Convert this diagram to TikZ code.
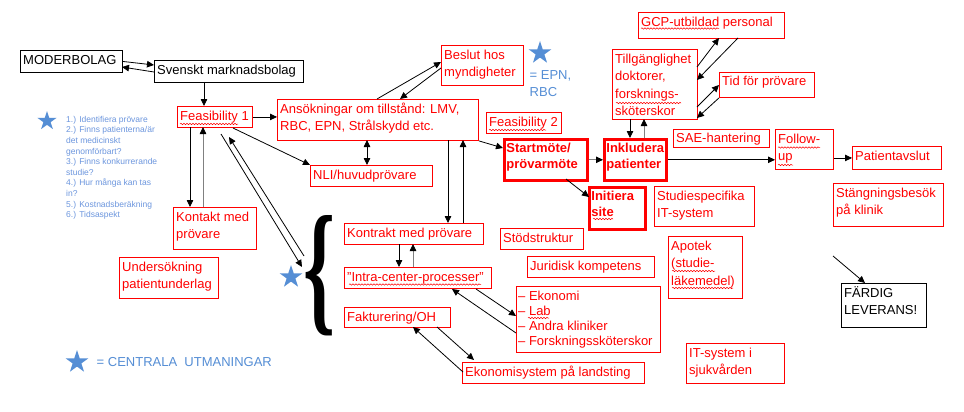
\documentclass[tikz,border=0pt]{standalone}
\usepackage{fontspec}
\setmainfont{Liberation Sans}
\newfontfamily\bracefont{Liberation Serif}
\usetikzlibrary{arrows.meta,shapes.geometric,decorations.pathmorphing}
\definecolor{rtxt}{RGB}{255,0,0}
\definecolor{sblue}{RGB}{85,142,213}
\definecolor{lblue}{RGB}{108,150,222}
\begin{document}
\begin{tikzpicture}[x=1pt,y=-1pt,
  rb/.style={draw=red, line width=0.9pt, anchor=north west, inner sep=0pt},
  bb/.style={rb, draw=black},
  tb/.style={rb, line width=2.6pt},
  tx/.style={anchor=north west, align=left, inner xsep=3pt, inner ysep=2.2pt, text=rtxt, font=\fontsize{13}{17.3}\selectfont},
  btx/.style={tx, text=black},
  bold/.style={tx, inner xsep=3.2pt, font=\fontsize{13}{16.7}\selectfont\bfseries},
  arr/.style={line width=0.8pt, -{Triangle[length=7pt,width=6.5pt]}},
  garr/.style={line width=0.8pt, draw=gray, -{Triangle[length=7pt,width=6.5pt,black]}},
  darr/.style={line width=0.8pt, {Triangle[length=7pt,width=6.5pt]}-{Triangle[length=7pt,width=6.5pt]}},
  bstar/.style={star, star points=5, star point ratio=2.618, fill=sblue, draw=none, inner sep=0pt, minimum size=#1},
  wavy/.style={draw=red, line width=0.5pt, decorate, decoration={snake, amplitude=0.7pt, segment length=3pt}},
]
\fill[white] (0,0) rectangle (964,412);
\useasboundingbox (0,0) rectangle (964,412);

% ---------- boxes ----------
\node[bb, minimum width=102pt, minimum height=22pt] (mb) at (20,50) {};
\node[btx] (mbt) at (mb.north west) {\strut MODERBOLAG};
\node[bb, minimum width=149pt, minimum height=22pt] (sm) at (154,60) {};
\node[btx] (smt) at (sm.north west) {\strut Svenskt marknadsbolag};

\node[rb, minimum width=75pt, minimum height=21pt] (f1) at (177,106) {};
\node[tx] (f1t) at (f1.north west) {\strut Feasibility 1};
\node[rb, minimum width=201pt, minimum height=41pt] (ans) at (277,99) {};
\node[tx] (anst) at (ans.north west) {\strut Ansökningar om tillstånd: LMV,\\ RBC, EPN, Strålskydd etc.};
\node[rb, minimum width=82pt, minimum height=40pt] (bes) at (441,45) {};
\node[tx] (best) at (bes.north west) {\strut Beslut hos\\ myndigheter};
\node[rb, minimum width=75pt, minimum height=21pt] (f2) at (486,112) {};
\node[tx] (f2t) at (f2.north west) {\strut Feasibility 2};

\node[tb, minimum width=83pt, minimum height=41pt] (start) at (503,138) {};
\node[bold] (startt) at (start.north west) {\strut Startmöte/\\ prövarmöte};
\node[tb, minimum width=62pt, minimum height=41pt] (ink) at (603,138) {};
\node[bold] (inkt) at (ink.north west) {\strut Inkludera\\ patienter};
\node[tb, minimum width=56pt, minimum height=42pt] (init) at (588,186) {};
\node[bold] (initt) at (init.north west) {\strut Initiera\\ site};

\node[rb, minimum width=122pt, minimum height=21pt] (nli) at (310,165) {};
\node[tx] (nlit) at (nli.north west) {\strut NLI/huvudprövare};
\node[rb, minimum width=83pt, minimum height=42pt] (kon) at (173,207) {};
\node[tx] (kont) at (kon.north west) {\strut Kontakt med\\ prövare};
\node[rb, minimum width=99pt, minimum height=41pt] (und) at (119,257) {};
\node[tx] (undt) at (und.north west) {\strut Undersökning\\ patientunderlag};

\node[rb, minimum width=139pt, minimum height=21pt] (kpr) at (344,223) {};
\node[tx] (kprt) at (kpr.north west) {\strut Kontrakt med prövare};
\node[rb, minimum width=147pt, minimum height=21pt] (intra) at (344,267) {};
\node[tx] (intrat) at (intra.north west) {\strut ”Intra-center-processer”};
\node[rb, minimum width=106pt, minimum height=20pt] (fakt) at (344,307) {};
\node[tx] (faktt) at (fakt.north west) {\strut Fakturering/OH};
\node[rb, minimum width=144pt, minimum height=66pt] (eko) at (516,286) {};
\node[tx, inner xsep=2pt, inner ysep=3.5pt, font=\fontsize{13}{15.2}\selectfont] (ekot) at (eko.north west) {\strut – Ekonomi\\ – Lab\\ – Andra kliniker\\ – Forskningssköterskor};
\node[rb, minimum width=182pt, minimum height=21pt] (ekos) at (462,362) {};
\node[tx] (ekost) at (ekos.north west) {\strut Ekonomisystem på landsting};
\node[rb, minimum width=83pt, minimum height=21pt] (stod) at (500,228) {};
\node[tx] (stodt) at (stod.north west) {\strut Stödstruktur};
\node[rb, minimum width=127pt, minimum height=21pt] (jur) at (527,256) {};
\node[tx] (jurt) at (jur.north west) {\strut Juridisk kompetens};

\node[rb, minimum width=146pt, minimum height=26pt] (gcp) at (638,12) {};
\node[tx] (gcpt) at (gcp.north west) {\strut GCP-utbildad personal};
\node[rb, minimum width=85pt, minimum height=70pt] (till) at (612,49) {};
\node[tx] (tillt) at (till.north west) {\strut Tillgänglighet\\ doktorer,\\ forsknings-\\ sköterskor};
\node[rb, minimum width=95pt, minimum height=25pt] (tid) at (719,72) {};
\node[tx, inner ysep=1.6pt] (tidt) at (tid.north west) {\strut Tid för prövare};
\node[rb, minimum width=96pt, minimum height=18pt] (sae) at (673,129) {};
\node[tx, inner ysep=1.3pt] (saet) at (sae.north west) {\strut SAE-hantering};
\node[rb, minimum width=58pt, minimum height=40pt] (fol) at (775,129) {};
\node[tx] (folt) at (fol.north west) {\strut Follow-\\ up};
\node[rb, minimum width=89pt, minimum height=23pt] (pat) at (852,146) {};
\node[tx] (patt) at (pat.north west) {\strut Patientavslut};
\node[rb, minimum width=100pt, minimum height=40pt] (studit) at (654,186) {};
\node[tx] (studitt) at (studit.north west) {\strut Studiespecifika\\ IT-system};
\node[rb, minimum width=110pt, minimum height=43pt] (stang) at (833,183) {};
\node[tx] (stangt) at (stang.north west) {\strut Stängningsbesök\\ på klinik};
\node[rb, minimum width=74pt, minimum height=62pt] (apo) at (668,236) {};
\node[tx] (apot) at (apo.north west) {\strut Apotek\\ (studie-\\ läkemedel)};
\node[bb, minimum width=85pt, minimum height=44pt] (fard) at (841,283) {};
\node[btx] (fardt) at (fard.north west) {\strut FÄRDIG\\ LEVERANS!};
\node[rb, minimum width=98pt, minimum height=40pt] (itsys) at (686,343) {};
\node[tx] (itsyst) at (itsys.north west) {\strut IT-system i\\ sjukvården};

% ---------- stars, brace, blue texts ----------
\node[bstar=20pt] (s1) at (47,121) {};
\node[bstar=24pt] (s2) at (291,277) {};
\node[bstar=24pt] (s3) at (540,53) {};
\node[bstar=24pt] (s4) at (77,362) {};
\node[anchor=north west, inner sep=0pt, align=left, text=lblue, font=\fontsize{8.5}{10.6}\selectfont] (list) at (66,114.6)
  {\strut 1.) Identifiera prövare\\ 2.) Finns patienterna/är\\ det medicinskt\\ genomförbart?\\ 3.) Finns konkurrerande\\ studie?\\ 4.) Hur många kan tas\\ in?\\ 5.) Kostnadsberäkning\\ 6.) Tidsaspekt};
\node[anchor=north west, inner sep=0pt, align=left, text=sblue, font=\fontsize{13}{17}\selectfont] (epn) at (529.5,67.1) {\strut = EPN,\\ RBC};
\node[anchor=base west, inner sep=0pt, text=sblue, font=\fontsize{13}{16}\selectfont] (legend) at (96.5,366) {= CENTRALA~ UTMANINGAR};
\node[inner sep=0pt] (brace) at (319.5,275.5) {\resizebox{32pt}{101pt}{\bracefont\bfseries\{}};

% ---------- connectors ----------
\draw[arr] (mb.east) -- ([shift={(0,5)}]sm.north west);
\draw[arr] ([shift={(0,12)}]sm.north west) -- ([shift={(102,17)}]mb.north west);
\draw[arr] ([shift={(50,22)}]sm.north west) -- ([shift={(27,0)}]f1.north west);
\draw[arr] (f1.east) -- (f1.east -| ans.west);
\draw[arr] ([shift={(56,22)}]f1.north west) -- (nli.north west);
\draw[arr] ([shift={(13,21)}]f1.north west) -- ([shift={(17,0)}]kon.north west);
\draw[garr] ([shift={(30,0)}]kon.north west) -- ([shift={(26,21)}]f1.north west);
\draw[arr] ([shift={(44,28)}]f1.north west) -- ([shift={(11,-10)}]s2.center);
\draw[arr] ([shift={(13,-21)}]s2.center) -- ([shift={(52,31)}]f1.north west);

\draw[arr] ([shift={(100,0)}]ans.north west) -- ([shift={(0,17)}]bes.north west);
\draw[arr] ([shift={(0,23)}]bes.north west) -- ([shift={(123,0)}]ans.north west);
\draw[darr] ([shift={(90,41)}]ans.north west) -- ([shift={(57,0)}]nli.north west);
\draw[arr] ([shift={(171,41)}]ans.north west) -- ([shift={(104,0)}]kpr.north west);
\draw[arr] ([shift={(119,0)}]kpr.north west) -- ([shift={(186,41)}]ans.north west);
\draw[arr] (ans.south east) -- ([shift={(0,10)}]start.north west);

\draw[garr] (start.east) -- (ink.west);
\draw[arr] ([shift={(63,41)}]start.north west) -- ([shift={(1,11)}]init.north west);
\draw[arr] ([shift={(18,70)}]till.north west) -- ([shift={(27,0)}]ink.north west);
\draw[garr] ([shift={(41,0)}]ink.north west) -- ([shift={(32,70)}]till.north west);
\draw[arr] ([shift={(85,18)}]till.north west) -- ([shift={(81,26)}]gcp.north west);
\draw[arr] ([shift={(100,26)}]gcp.north west) -- ([shift={(85,31)}]till.north west);
\draw[arr] ([shift={(85,58)}]till.north west) -- ([shift={(0,13)}]tid.north west);
\draw[arr] (tid.south west) -- ([shift={(85,69)}]till.north west);
\draw[arr] (ink.east) -- (ink.east -| fol.west);
\draw[arr] (pat.west -| fol.east) -- (pat.west);

\draw[arr] ([shift={(55,21)}]kpr.north west) -- ([shift={(55,0)}]intra.north west);
\draw[garr] ([shift={(69,0)}]intra.north west) -- ([shift={(69,21)}]kpr.north west);
\draw[arr] ([shift={(132,22)}]intra.north west) -- ([shift={(0,30)}]eko.north west);
\draw[arr] ([shift={(0,47)}]eko.north west) -- ([shift={(108,22)}]intra.north west);
\draw[arr] ([shift={(93,20)}]fakt.north west) -- ([shift={(12,-2)}]ekos.north west);
\draw[arr] ([shift={(1,10)}]ekos.north west) -- ([shift={(69,20)}]fakt.north west);

\coordinate (fa) at (833,256);
\draw[arr] (fa) -- ([shift={(24,0)}]fard.north west);

% ---------- spell-check underlines ----------
\draw[wavy] (180,124) -- (238,124);
\draw[wavy] (489,130) -- (546,130);
\draw[wavy] (349,284.5) -- (481,284.5);
\draw[wavy] (528,318) -- (549,318);
\draw[wavy] (593,219) -- (613,219);
\draw[wavy] (778,147.5) -- (820,147.5);
\draw[wavy] (778,165) -- (793,165);
\draw[wavy] (616,103) -- (681,103);
\draw[wavy] (641,28.5) -- (719,28.5);
\draw[wavy] (672,271) -- (715,271);
\draw[wavy] (672,288) -- (733,288);
\end{tikzpicture}
\end{document}
